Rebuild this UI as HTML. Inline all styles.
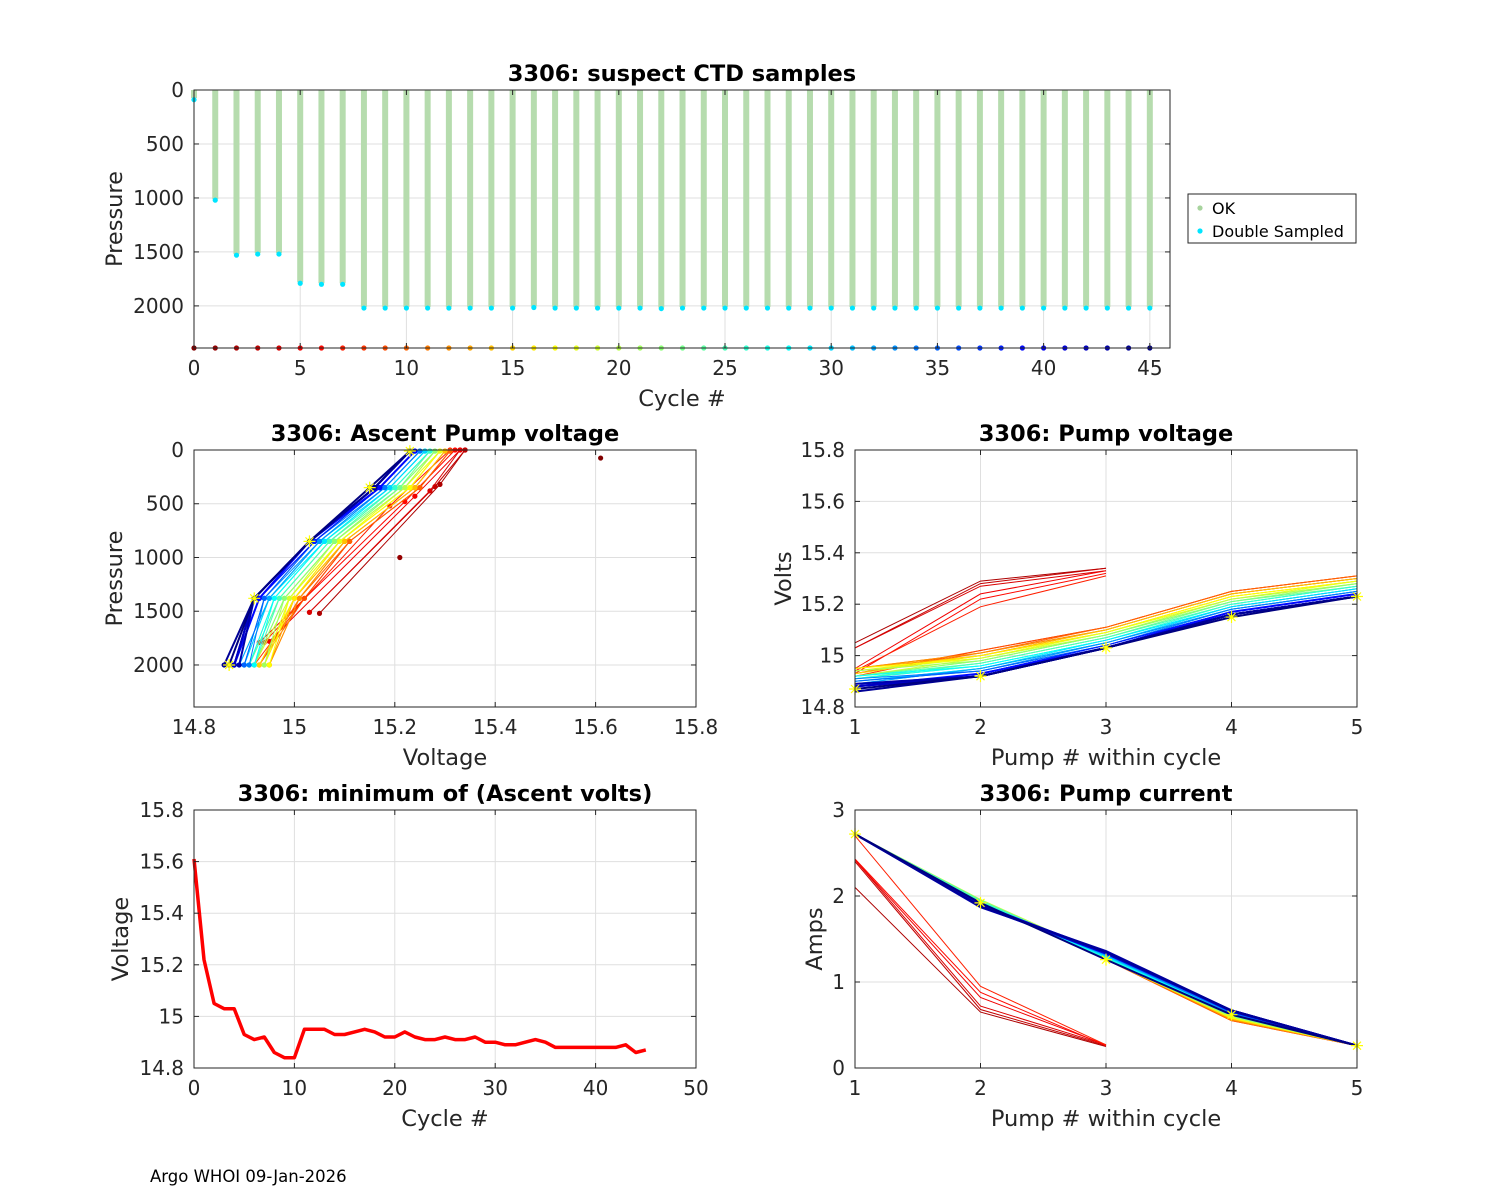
<!DOCTYPE html>
<html><head><meta charset="utf-8"><style>
body{margin:0;background:#fff;}
svg{display:block;font-family:"DejaVu Sans","Liberation Sans",sans-serif;}
</style></head><body>
<svg id="fig" width="1500" height="1200" xmlns="http://www.w3.org/2000/svg">
<rect x="0" y="0" width="1500" height="1200" fill="#fff"/>
<text x="150" y="1182" font-size="16.5" fill="#000">Argo WHOI 09-Jan-2026</text>
</svg>
<script>
// ---------- data ----------
const cycles = [];
for (let i = 0; i <= 45; i++) cycles.push(i);
const maxPressure = [75,1010,1520,1510,1510,1780,1790,1790,2010,2010,2010,2010,2010,2010,2010,2010,2005,2010,2010,2010,2010,2010,2015,2010,2010,2010,2010,2010,2010,2010,2010,2010,2010,2010,2010,2010,2010,2010,2010,2010,2010,2010,2010,2010,2010,2010];
const minVolts = [15.61,15.22,15.05,15.03,15.03,14.93,14.91,14.92,14.86,14.84,14.84,14.95,14.95,14.95,14.93,14.93,14.94,14.95,14.94,14.92,14.92,14.94,14.92,14.91,14.91,14.92,14.91,14.91,14.92,14.90,14.90,14.89,14.89,14.90,14.91,14.90,14.88,14.88,14.88,14.88,14.88,14.88,14.88,14.89,14.86,14.87];
const earlyVolts = [15.61,15.21];
const earlyPress = [75,1000];
const shortCycles = [2,3,4,5,6,7];
const shortVolts = [[15.05,15.29,15.34],[15.03,15.28,15.34],[15.03,15.27,15.33],[14.95,15.24,15.33],[14.93,15.22,15.32],[14.94,15.19,15.31]];
const shortPress = [[1520,320,0],[1510,340,0],[1510,380,0],[1780,430,0],[1790,480,0],[1790,520,0]];
const shortAmps = [[2.1,0.65,0.25],[2.4,0.68,0.26],[2.42,0.72,0.27],[2.42,0.82,0.27],[2.43,0.88,0.26],[2.7,0.95,0.27]];
const pump1Volts = [14.92,14.93,14.93,14.95,14.95,14.95,14.93,14.93,14.94,14.95,14.94,14.92,14.92,14.94,14.92,14.91,14.91,14.92,14.91,14.91,14.92,14.90,14.90,14.89,14.89,14.90,14.91,14.90,14.88,14.88,14.88,14.88,14.88,14.88,14.88,14.89,14.86,14.87];
const pump2Volts = [15.02,15.02,15.01,15.01,15.01,15.00,15.00,15.00,15.00,14.99,14.99,14.99,14.98,14.98,14.98,14.97,14.97,14.97,14.96,14.96,14.96,14.95,14.95,14.95,14.95,14.94,14.94,14.94,14.93,14.93,14.93,14.93,14.92,14.92,14.92,14.92,14.92,14.92];
const pump3Volts = [15.11,15.11,15.11,15.10,15.10,15.10,15.10,15.09,15.09,15.09,15.09,15.08,15.08,15.08,15.08,15.07,15.07,15.07,15.06,15.06,15.06,15.06,15.05,15.05,15.05,15.05,15.04,15.04,15.04,15.04,15.04,15.03,15.03,15.03,15.03,15.03,15.03,15.03];
const pump4Volts = [15.25,15.25,15.25,15.24,15.24,15.24,15.24,15.23,15.23,15.23,15.22,15.22,15.22,15.21,15.21,15.21,15.20,15.20,15.20,15.19,15.19,15.19,15.19,15.18,15.18,15.18,15.18,15.17,15.17,15.17,15.17,15.17,15.16,15.16,15.16,15.16,15.16,15.15];
const pump5Volts = [15.31,15.31,15.31,15.30,15.30,15.30,15.30,15.29,15.29,15.29,15.29,15.28,15.28,15.28,15.28,15.27,15.27,15.27,15.27,15.26,15.26,15.26,15.26,15.25,15.25,15.25,15.25,15.24,15.24,15.24,15.24,15.24,15.23,15.23,15.23,15.23,15.23,15.23];
const pumpPress = [2000,1380,850,350,10];
const pump1Amps = [2.72,2.72,2.72,2.72,2.72,2.72,2.72,2.72,2.72,2.72,2.72,2.72,2.72,2.72,2.72,2.72,2.72,2.72,2.72,2.72,2.72,2.72,2.72,2.72,2.72,2.72,2.72,2.72,2.72,2.72,2.72,2.72,2.72,2.72,2.72,2.72,2.72,2.72];
const pump2Amps = [1.92,1.93,1.92,1.94,1.93,1.92,1.95,1.93,1.92,1.94,1.93,1.92,1.96,1.93,1.92,1.94,1.93,1.95,1.92,1.93,1.91,1.90,1.92,1.91,1.90,1.91,1.89,1.90,1.88,1.90,1.89,1.88,1.89,1.88,1.90,1.87,1.88,1.92];
const pump3Amps = [1.26,1.27,1.26,1.28,1.27,1.26,1.28,1.27,1.26,1.27,1.28,1.26,1.30,1.27,1.26,1.28,1.27,1.29,1.28,1.30,1.29,1.31,1.30,1.32,1.31,1.33,1.32,1.34,1.33,1.35,1.33,1.34,1.35,1.33,1.34,1.36,1.35,1.26];
const pump4Amps = [0.55,0.56,0.55,0.57,0.56,0.58,0.57,0.58,0.59,0.58,0.60,0.59,0.60,0.61,0.60,0.61,0.62,0.61,0.62,0.63,0.62,0.63,0.64,0.63,0.64,0.65,0.64,0.65,0.66,0.65,0.66,0.67,0.66,0.67,0.66,0.67,0.67,0.62];
const pump5Amps = [0.26,0.26,0.26,0.26,0.26,0.26,0.26,0.26,0.26,0.26,0.26,0.26,0.26,0.26,0.26,0.26,0.26,0.26,0.26,0.26,0.26,0.26,0.26,0.26,0.26,0.26,0.26,0.26,0.26,0.26,0.26,0.26,0.26,0.26,0.26,0.26,0.26,0.26];

// ---------- helpers ----------
const NS = "http://www.w3.org/2000/svg";
const fig = document.getElementById('fig');
function el(tag, attrs, parent) {
  const e = document.createElementNS(NS, tag);
  for (const k in attrs) e.setAttribute(k, attrs[k]);
  (parent || fig).appendChild(e);
  return e;
}
function jet(t) {
  function c(x) { return Math.max(0, Math.min(1, x)); }
  const r = c(1.5 - Math.abs(4 * t - 3)), g = c(1.5 - Math.abs(4 * t - 2)), b = c(1.5 - Math.abs(4 * t - 1));
  return `rgb(${Math.round(r*255)},${Math.round(g*255)},${Math.round(b*255)})`;
}
function cycColor(i) { return jet(1 - i / 45); }

function axes(o) {
  const g = el('g', {});
  
  
  const sx = v => o.x + (v - o.xmin) / (o.xmax - o.xmin) * o.w;
  const sy = o.rev ? (v => o.y + (v - o.ymin) / (o.ymax - o.ymin) * o.h)
                   : (v => o.y + o.h - (v - o.ymin) / (o.ymax - o.ymin) * o.h);
  el('rect', {x:o.x, y:o.y, width:o.w, height:o.h, fill:'#fff'}, g);
  const grid = el('g', {stroke:'#dfdfdf', 'stroke-width':1}, g);
  
  
  o.xt.forEach(v => el('line', {x1:sx(v), x2:sx(v), y1:o.y, y2:o.y+o.h}, grid));
  o.yt.forEach(v => el('line', {x1:o.x, x2:o.x+o.w, y1:sy(v), y2:sy(v)}, grid));
  const plot = el('g', {}, g);
  
  
  const over = el('g', {}, g);
  el('rect', {x:o.x, y:o.y, width:o.w, height:o.h, fill:'none', stroke:'#262626', 'stroke-width':1}, over);
  const tk = el('g', {stroke:'#262626', 'stroke-width':1}, over);
  o.xt.forEach(v => { el('line', {x1:sx(v), x2:sx(v), y1:o.y+o.h, y2:o.y+o.h-5}, tk); el('line', {x1:sx(v), x2:sx(v), y1:o.y, y2:o.y+5}, tk); });
  o.yt.forEach(v => { el('line', {x1:o.x, x2:o.x+5, y1:sy(v), y2:sy(v)}, tk); el('line', {x1:o.x+o.w, x2:o.x+o.w-5, y1:sy(v), y2:sy(v)}, tk); });
  o.xt.forEach((v, i) => {
    const t = el('text', {x:sx(v), y:o.y+o.h+27, 'font-size':20, fill:'#262626', 'text-anchor':'middle'}, over);
    
    
    t.textContent = o.xl[i];
  });
  o.yt.forEach((v, i) => {
    const t = el('text', {x:o.x-10, y:sy(v)+7, 'font-size':20, fill:'#262626', 'text-anchor':'end'}, over);
    
    
    t.textContent = o.yl[i];
  });
  const tt = el('text', {x:o.x+o.w/2, y:o.y-9, 'font-size':22.5, 'font-weight':'bold', fill:'#000', 'text-anchor':'middle'}, over);
  
  
  tt.textContent = o.title;
  const xlab = el('text', {x:o.x+o.w/2, y:o.y+o.h+58, 'font-size':22.5, fill:'#262626', 'text-anchor':'middle'}, over);
  
  
  xlab.textContent = o.xlab;
  const ylx = o.x - o.ylOff;
  const ylab = el('text', {x:ylx, y:o.y+o.h/2, 'font-size':22.5, fill:'#262626', 'text-anchor':'middle', transform:`rotate(-90 ${ylx} ${o.y+o.h/2})`}, over);
  
  
  ylab.textContent = o.ylab;
  return {sx, sy, plot};
}
function pathD(xs, ys, sx, sy) { return xs.map((v, i) => (i ? 'L' : 'M') + sx(v).toFixed(1) + ' ' + sy(ys[i]).toFixed(1)).join(' '); }
function star(g, x, y) {
  const s = el('path', {d:`M${x-6} ${y}H${x+6}M${x} ${y-6}V${y+6}M${x-4} ${y-4}L${x+4} ${y+4}M${x-4} ${y+4}L${x+4} ${y-4}`, stroke:'#ffff00', 'stroke-width':1.2, fill:'none'}, g);
  
  
}
function fullVolts(k) { return [pump1Volts[k], pump2Volts[k], pump3Volts[k], pump4Volts[k], pump5Volts[k]]; }
function fullAmps(k) { return [pump1Amps[k], pump2Amps[k], pump3Amps[k], pump4Amps[k], pump5Amps[k]]; }

// ---------- top chart ----------
(function () {
  const t = ['0','5','10','15','20','25','30','35','40','45'];
  const A = axes({name:'suspect-ctd-chart', x:194, y:90, w:976, h:258, xmin:0, xmax:45.95, ymin:0, ymax:2390, rev:true,
    xt:[0,5,10,15,20,25,30,35,40,45], xl:t, yt:[0,500,1000,1500,2000], yl:['0','500','1000','1500','2000'],
    title:'3306: suspect CTD samples', xlab:'Cycle #', ylab:'Pressure', ylOff:72});
  cycles.forEach((c, i) => {
    const b = el('rect', {x:A.sx(c)-3, y:A.sy(0), width:6, height:A.sy(maxPressure[i])-A.sy(0), fill:'#b6dcae'}, A.plot);
    
    
    const d = el('circle', {cx:A.sx(c), cy:A.sy(maxPressure[i]+(i===0?15:10)), r:2.6, fill:'#00e5ff'}, A.plot);
    
    
    const p = el('circle', {cx:A.sx(c), cy:A.sy(2390), r:2.6, fill:cycColor(c)}, A.plot);
    
    
  });
  const lg = el('g', {});
  
  
  el('rect', {x:1188, y:194, width:168, height:49, fill:'#fff', stroke:'#262626'}, lg);
  el('circle', {cx:1200, cy:208, r:2.6, fill:'#a8d49e'}, lg);
  el('circle', {cx:1200, cy:231, r:2.6, fill:'#00e5ff'}, lg);
  const t1 = el('text', {x:1212, y:214, 'font-size':16, fill:'#000'}, lg);
  
  
  t1.textContent = 'OK';
  const t2 = el('text', {x:1212, y:237, 'font-size':16, fill:'#000'}, lg);
  
  
  t2.textContent = 'Double Sampled';
})();

// ---------- ascent pump voltage ----------
(function () {
  const A = axes({name:'ascent-pump-voltage-chart', x:194, y:450, w:502, h:257, xmin:14.8, xmax:15.8, ymin:0, ymax:2391, rev:true,
    xt:[14.8,15,15.2,15.4,15.6,15.8], xl:['14.8','15','15.2','15.4','15.6','15.8'], yt:[0,500,1000,1500,2000], yl:['0','500','1000','1500','2000'],
    title:'3306: Ascent Pump voltage', xlab:'Voltage', ylab:'Pressure', ylOff:72});
  earlyVolts.forEach((v, i) => {
    const d = el('circle', {cx:A.sx(v), cy:A.sy(earlyPress[i]), r:2.6, fill:cycColor(i)}, A.plot);
    
    
  });
  shortCycles.forEach((c, k) => {
    const l = el('path', {d:pathD(shortVolts[k], shortPress[k], A.sx, A.sy), stroke:cycColor(c), fill:'none', 'stroke-width':1}, A.plot);
    
    
    shortVolts[k].forEach((v, j) => el('circle', {cx:A.sx(v), cy:A.sy(shortPress[k][j]), r:2.6, fill:cycColor(c)}, A.plot));
  });
  for (let k = 0; k < pump1Volts.length; k++) {
    const c = k + 8, vs = fullVolts(k);
    const l = el('path', {d:pathD(vs, pumpPress, A.sx, A.sy), stroke:cycColor(c), fill:'none', 'stroke-width':c > 38 ? 2 : 1}, A.plot);
    
    
    vs.forEach((v, j) => el('circle', {cx:A.sx(v), cy:A.sy(pumpPress[j]), r:2.6, fill:cycColor(c)}, A.plot));
  }
  const last = fullVolts(pump1Volts.length - 1);
  last.forEach((v, j) => star(A.plot, A.sx(v), A.sy(pumpPress[j])));
})();

// ---------- pump voltage ----------
(function () {
  const A = axes({name:'pump-voltage-chart', x:855, y:450, w:502, h:257, xmin:1, xmax:5, ymin:14.8, ymax:15.8, rev:false,
    xt:[1,2,3,4,5], xl:['1','2','3','4','5'], yt:[14.8,15,15.2,15.4,15.6,15.8], yl:['14.8','15','15.2','15.4','15.6','15.8'],
    title:'3306: Pump voltage', xlab:'Pump # within cycle', ylab:'Volts', ylOff:64});
  shortCycles.forEach((c, k) => {
    const l = el('path', {d:pathD([1,2,3], shortVolts[k], A.sx, A.sy), stroke:cycColor(c), fill:'none', 'stroke-width':1}, A.plot);
    
    
  });
  for (let k = 0; k < pump1Volts.length; k++) {
    const c = k + 8;
    const l = el('path', {d:pathD([1,2,3,4,5], fullVolts(k), A.sx, A.sy), stroke:cycColor(c), fill:'none', 'stroke-width':c > 38 ? 2 : 1}, A.plot);
    
    
  }
  fullVolts(pump1Volts.length - 1).forEach((v, j) => star(A.plot, A.sx(j + 1), A.sy(v)));
})();

// ---------- minimum ascent volts ----------
(function () {
  const A = axes({name:'min-ascent-volts-chart', x:194, y:810, w:502, h:258, xmin:0, xmax:50, ymin:14.8, ymax:15.8, rev:false,
    xt:[0,10,20,30,40,50], xl:['0','10','20','30','40','50'], yt:[14.8,15,15.2,15.4,15.6,15.8], yl:['14.8','15','15.2','15.4','15.6','15.8'],
    title:'3306: minimum of (Ascent volts)', xlab:'Cycle #', ylab:'Voltage', ylOff:66});
  const l = el('path', {d:pathD(cycles, minVolts, A.sx, A.sy), stroke:'#ff0000', fill:'none', 'stroke-width':3.5, 'stroke-linejoin':'round'}, A.plot);
  
  
})();

// ---------- pump current ----------
(function () {
  const A = axes({name:'pump-current-chart', x:855, y:810, w:502, h:258, xmin:1, xmax:5, ymin:0, ymax:3, rev:false,
    xt:[1,2,3,4,5], xl:['1','2','3','4','5'], yt:[0,1,2,3], yl:['0','1','2','3'],
    title:'3306: Pump current', xlab:'Pump # within cycle', ylab:'Amps', ylOff:33});
  shortCycles.forEach((c, k) => {
    const l = el('path', {d:pathD([1,2,3], shortAmps[k], A.sx, A.sy), stroke:cycColor(c), fill:'none', 'stroke-width':1}, A.plot);
    
    
  });
  for (let k = 0; k < pump1Amps.length; k++) {
    const c = k + 8;
    const l = el('path', {d:pathD([1,2,3,4,5], fullAmps(k), A.sx, A.sy), stroke:cycColor(c), fill:'none', 'stroke-width':c > 38 ? 2 : 1}, A.plot);
    
    
  }
  fullAmps(pump1Amps.length - 1).forEach((v, j) => star(A.plot, A.sx(j + 1), A.sy(v)));
})();
</script>
</body></html>
